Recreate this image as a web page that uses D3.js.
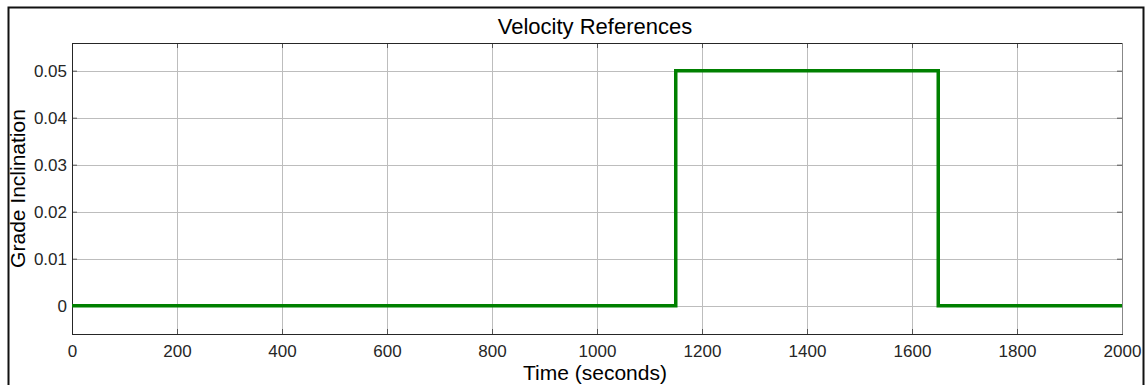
<!DOCTYPE html>
<html>
<head>
<meta charset="utf-8">
<script src="https://cdn.jsdelivr.net/npm/d3@7"></script>
<style>
	body { margin: 0; background: #fff; }
	svg { display: block; font-family: "Liberation Sans", Arial, sans-serif; }
</style>
</head>
<body>
<div id="chart"></div>
<script>

// step signal, (time, grade) pairs
var times = [0, 1150, 1150, 1650, 1650, 2000];
var grades = [0, 0, 0.05, 0.05, 0, 0];

var xTicks = [0, 200, 400, 600, 800, 1000, 1200, 1400, 1600, 1800, 2000];
var yTicks = [0, 0.01, 0.02, 0.03, 0.04, 0.05];

var chartTitle = "Velocity References";
var xTitle = "Time (seconds)";
var yTitle = "Grade Inclination";

var width = 1145, height = 385;
var plot = { left: 72, top: 43, right: 1122, bottom: 334 };

var svg = d3.select("#chart").append("svg")
	.attr("width", width)
	.attr("height", height);

// outer frame
svg.append("rect")
	.attr("x", 8.5).attr("y", 7.5)
	.attr("width", 1135).attr("height", 400)
	.attr("fill", "none")
	.attr("stroke", "#111")
	.attr("stroke-width", 2);

var x = d3.scaleLinear().domain([0, 2000]).range([plot.left, plot.right]);
var y = d3.scaleLinear().domain([-0.00602, 0.05589]).range([plot.bottom, plot.top]);

// grid
var grid = svg.append("g");
grid.selectAll("line.vx").data(xTicks).enter().append("line")
	.attr("x1", function(d) { return Math.round(x(d)) + 0.5; })
	.attr("x2", function(d) { return Math.round(x(d)) + 0.5; })
	.attr("y1", plot.top).attr("y2", plot.bottom)
	.attr("stroke", "#bdbdbd").attr("stroke-width", 1);
grid.selectAll("line.hy").data(yTicks).enter().append("line")
	.attr("y1", function(d) { return Math.round(y(d)) + 0.5; })
	.attr("y2", function(d) { return Math.round(y(d)) + 0.5; })
	.attr("x1", plot.left).attr("x2", plot.right)
	.attr("stroke", "#bdbdbd").attr("stroke-width", 1);

// axes, ticks pointing inward
var xAxis = svg.append("g")
	.attr("transform", "translate(0," + plot.bottom + ")")
	.call(d3.axisBottom(x).tickValues(xTicks).tickSize(-5).tickPadding(11).tickFormat(d3.format("d")));
var xTop = svg.append("g")
	.attr("transform", "translate(0," + plot.top + ")")
	.call(d3.axisTop(x).tickValues(xTicks).tickSize(-5).tickFormat(""));
var yAxis = svg.append("g")
	.attr("transform", "translate(" + plot.left + ",0)")
	.call(d3.axisLeft(y).tickValues(yTicks).tickSize(-5).tickPadding(10)
		.tickFormat(function(d) { return d === 0 ? "0" : d3.format(".2f")(d); }));
var yRight = svg.append("g")
	.attr("transform", "translate(" + plot.right + ",0)")
	.call(d3.axisRight(y).tickValues(yTicks).tickSize(-5).tickFormat(""));

[xAxis, xTop, yAxis, yRight].forEach(function(g) {
	g.selectAll(".domain").remove();
	g.selectAll(".tick line").attr("stroke", "#555");
	g.selectAll(".tick text")
		.attr("fill", "#262626")
		.style("font-size", "17px")
		.style("font-family", "\"Liberation Sans\", Arial, sans-serif");
});
// y labels sit a bit closer to the axis
yAxis.selectAll(".tick text").attr("x", -5);

// box
svg.append("line").attr("x1", plot.left).attr("x2", plot.right)
	.attr("y1", plot.top + 0.5).attr("y2", plot.top + 0.5).attr("stroke", "#262626");
svg.append("line").attr("x1", plot.left).attr("x2", plot.right + 1)
	.attr("y1", plot.bottom + 0.5).attr("y2", plot.bottom + 0.5).attr("stroke", "#262626");
svg.append("line").attr("x1", plot.left + 0.5).attr("x2", plot.left + 0.5)
	.attr("y1", plot.top).attr("y2", plot.bottom).attr("stroke", "#262626");
svg.append("line").attr("x1", plot.right + 0.5).attr("x2", plot.right + 0.5)
	.attr("y1", plot.top).attr("y2", plot.bottom).attr("stroke", "#888");

// signal
var line = d3.line()
	.x(function(d) { return x(d[0]); })
	.y(function(d) { return y(d[1]); });

svg.append("path")
	.datum(d3.zip(times, grades))
	.attr("d", line)
	.attr("fill", "none")
	.attr("stroke", "#008000")
	.attr("stroke-width", 3.5);

// titles
svg.append("text")
	.attr("x", (plot.left + plot.right) / 2 - 2).attr("y", 34)
	.attr("text-anchor", "middle")
	.style("font-size", "22px")
	.attr("fill", "#000")
	.text(chartTitle);

svg.append("text")
	.attr("x", (plot.left + plot.right) / 2 - 2).attr("y", 380)
	.attr("text-anchor", "middle")
	.style("font-size", "21px")
	.attr("fill", "#000")
	.text(xTitle);

svg.append("text")
	.attr("transform", "translate(25," + (plot.top + plot.bottom) / 2 + ") rotate(-90)")
	.attr("text-anchor", "middle")
	.style("font-size", "21px")
	.attr("fill", "#000")
	.text(yTitle);

</script>
</body>
</html>
